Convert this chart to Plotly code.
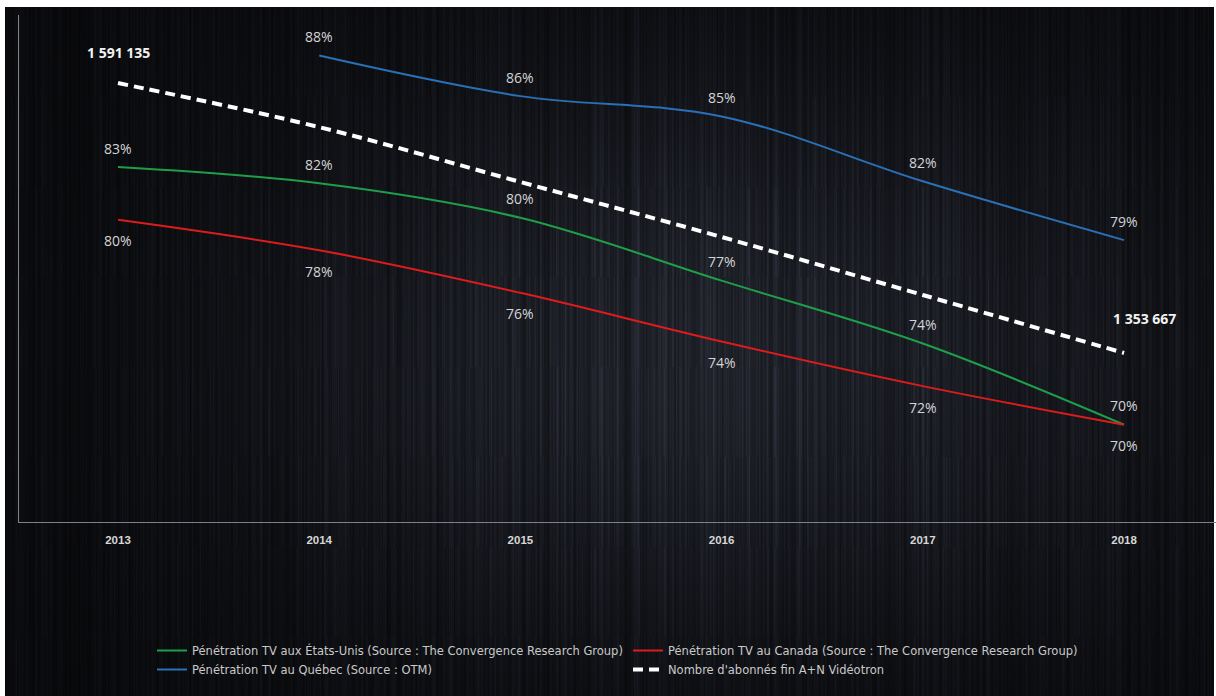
import base64, struct, zlib
import numpy as np
import plotly.graph_objects as go

# ---------------- data ----------------
years = ["2013", "2014", "2015", "2016", "2017", "2018"]
usa = [82.5, 81.7, 80.0, 76.9, 73.8, 69.8]          # Pénétration TV aux États-Unis
canada = [79.9, 78.4, 76.3, 73.9, 71.7, 69.8]       # Pénétration TV au Canada
quebec = [None, 88.0, 86.0, 85.0, 81.8, 78.9]       # Pénétration TV au Québec
abonnes = [1591135, 1552400, 1504100, 1455700, 1404700, 1353667]  # abonnés A+N Vidéotron
usa_labels = ["83%", "82%", "80%", "77%", "74%", "70%"]
canada_labels = ["80%", "78%", "76%", "74%", "72%", "70%"]
quebec_labels = [None, "88%", "86%", "85%", "82%", "79%"]
abonnes_labels = ["1 591 135", None, None, None, None, "1 353 667"]

names = [
    "Pénétration TV aux États-Unis (Source : The Convergence Research Group)",
    "Pénétration TV au Canada (Source : The Convergence Research Group)",
    "Pénétration TV au Québec (Source : OTM)",
    "Nombre d'abonnés fin A+N Vidéotron",
]

xi = list(range(len(years)))

# ---------------- background texture (dark brushed look) ----------------
W, H = 1209, 689
xs = np.arange(W)[None, :].astype(float)
ys = np.arange(H)[:, None].astype(float)
glow = np.exp(-((xs - 720) / 440.0) ** 2 - ((ys - 350) / 280.0) ** 2)
base = 11 + 25 * glow
col = np.arange(W).astype(float)
h1 = np.sin(col * 12.9898) * 43758.5453
n1 = h1 - np.floor(h1)
n1 = np.convolve(n1, np.ones(2) / 2, mode="same")
blk = np.sin((col[None, :] * 3.7 + np.floor(ys / 90) * 57.3)) * 9871.31
n2 = blk - np.floor(blk)
streak = 0.62 + 0.7 * n1[None, :] * (0.7 + 0.6 * n2)
b = base * streak
img = np.stack([b * 0.92, b * 0.98, b * 1.22], axis=-1).clip(0, 255).astype(np.uint8)


def to_png(a):
    h, w, _ = a.shape
    raw = b"".join(b"\x00" + a[r].tobytes() for r in range(h))

    def chunk(t, d):
        c = struct.pack(">I", len(d)) + t + d
        return c + struct.pack(">I", zlib.crc32(t + d) & 0xFFFFFFFF)

    png = b"\x89PNG\r\n\x1a\n" + chunk(b"IHDR", struct.pack(">IIBBBBB", w, h, 8, 2, 0, 0, 0))
    png += chunk(b"IDAT", zlib.compress(raw, 9)) + chunk(b"IEND", b"")
    return "data:image/png;base64," + base64.b64encode(png).decode()


# ---------------- figure ----------------
L, T, PW, PH = 19, 15, 1197, 507
GREEN, RED, BLUE = "#1f9e4a", "#dc1c1c", "#2a70b6"

fig = go.Figure()
fig.add_trace(go.Scatter(x=xi, y=usa, name=names[0], mode="lines",
                         line=dict(color=GREEN, width=2, shape="spline")))
fig.add_trace(go.Scatter(x=xi, y=canada, name=names[1], mode="lines",
                         line=dict(color=RED, width=2, shape="spline")))
fig.add_trace(go.Scatter(x=xi, y=quebec, name=names[2], mode="lines",
                         line=dict(color=BLUE, width=2, shape="spline")))
fig.add_trace(go.Scatter(x=xi, y=abonnes, name=names[3], mode="lines", yaxis="y2",
                         line=dict(color="white", width=4, dash="10px,6px", shape="spline")))

pct_font = dict(family="Open Sans", size=14, color="#d4d4d4")
for i, v, t in zip(xi, usa, usa_labels):
    fig.add_annotation(x=i, y=v, xref="x", yref="y", text=t, showarrow=False,
                       yshift=19, font=pct_font)
for i, v, t in zip(xi, canada, canada_labels):
    fig.add_annotation(x=i, y=v, xref="x", yref="y", text=t, showarrow=False,
                       yshift=-21, font=pct_font)
for i, v, t in zip(xi, quebec, quebec_labels):
    if t:
        fig.add_annotation(x=i, y=v, xref="x", yref="y", text=t, showarrow=False,
                           yshift=19, font=pct_font)
num_font = dict(family="Open Sans", size=14, color="#f2f2f2")
for i, v, t in zip(xi, abonnes, abonnes_labels):
    if t:
        fig.add_annotation(x=i, y=v, xref="x", yref="y2", text="<b>%s</b>" % t,
                           showarrow=False, yshift=31 if i == 0 else 35,
                           xshift=0 if i == 0 else 20, font=num_font)

fig.add_layout_image(dict(source=to_png(img), xref="paper", yref="paper",
                          x=(5 - L) / PW, y=(T + PH - 7) / PH, sizex=W / PW, sizey=H / PH,
                          xanchor="left", yanchor="top", sizing="stretch", layer="below"))

fig.update_layout(
    width=1216, height=696,
    margin=dict(l=L, r=1216 - L - PW, t=T, b=696 - T - PH),
    paper_bgcolor="white", plot_bgcolor="rgba(0,0,0,0)",
    showlegend=True,
    xaxis=dict(range=[-0.492, 5.457], tickvals=xi, ticktext=["<b>%s</b>" % y for y in years],
               showgrid=False, zeroline=False,
               showline=True, linecolor="#7d818a", linewidth=1,
               ticks="outside", ticklen=7, tickcolor="rgba(0,0,0,0)",
               tickfont=dict(family="Liberation Sans", size=11.5, color="#d6d6d6")),
    yaxis=dict(range=[65, 90], showgrid=False, zeroline=False, showticklabels=False,
               showline=True, linecolor="#858585", linewidth=1, ticks=""),
    yaxis2=dict(range=[1205000, 1651000], overlaying="y", side="right", showgrid=False,
                zeroline=False, showticklabels=False, showline=False, ticks=""),
    legend=dict(orientation="h", x=(152 - L) / PW, xanchor="left",
                y=(T + PH - 636) / PH, yanchor="top",
                entrywidth=431, entrywidthmode="pixels", tracegroupgap=0,
                bgcolor="rgba(0,0,0,0)",
                font=dict(family="DejaVu Sans", size=11.5, color="#c9c9c9")),
)

fig.write_html("out.html")
